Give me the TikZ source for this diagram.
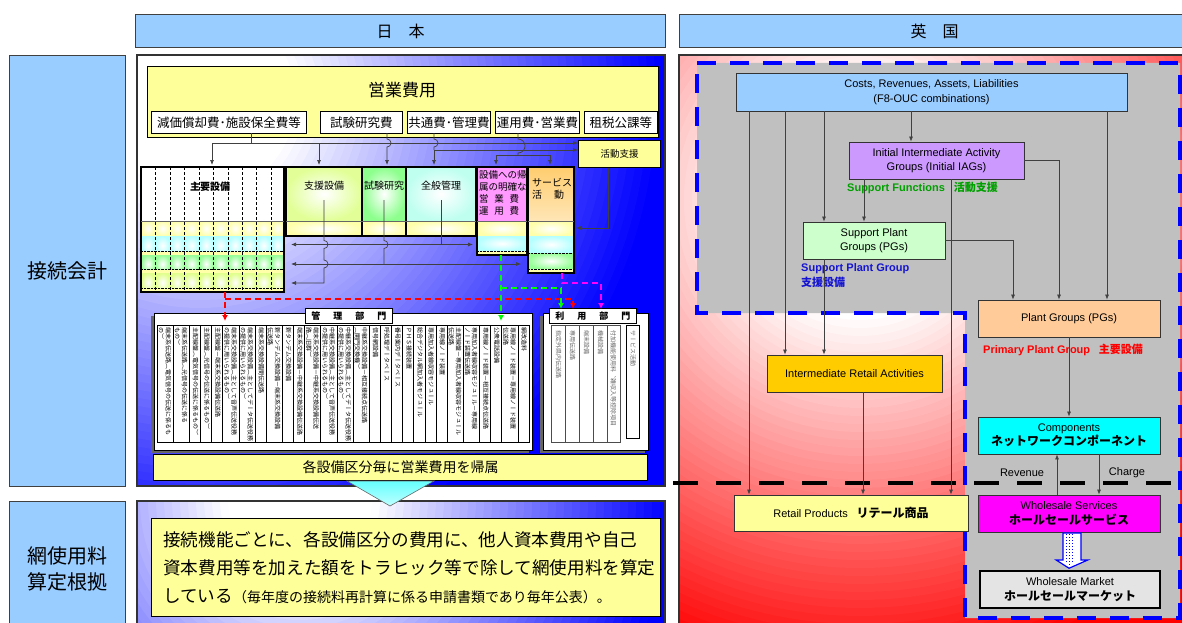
\documentclass[tikz,border=0pt]{standalone}
\usepackage{fontspec}
\setmainfont{Liberation Sans}
\newfontfamily\jp{Noto Sans CJK JP}
\newfontfamily\jpv{Noto Sans CJK JP}[Vertical=RotatedGlyphs]
\usetikzlibrary{positioning,arrows.meta,calc}
\definecolor{cyan}{RGB}{0,255,255}
\definecolor{magenta}{RGB}{255,0,255}
\definecolor{skyhdr}{RGB}{153,204,255}
\definecolor{paleyel}{RGB}{255,255,153}
\definecolor{ukgray}{RGB}{192,192,192}
\definecolor{lilac}{RGB}{204,153,255}
\definecolor{mint}{RGB}{204,255,204}
\definecolor{peach}{RGB}{255,204,153}
\definecolor{iragold}{RGB}{255,204,0}
\definecolor{sfgreen}{RGB}{0,160,0}
\definecolor{spblue}{RGB}{20,20,210}
\definecolor{rowyel}{RGB}{255,255,170}
\definecolor{rowcyan}{RGB}{180,255,255}
\definecolor{rowgreen}{RGB}{150,255,150}
\definecolor{rowlime}{RGB}{225,255,140}
\definecolor{shienc}{RGB}{225,255,150}
\definecolor{shikenc}{RGB}{140,255,140}
\definecolor{zenpanc}{RGB}{190,255,240}
\definecolor{pinkbox}{RGB}{255,153,255}
\definecolor{orangebox}{RGB}{255,205,110}
\definecolor{marble}{RGB}{228,228,228}
\begin{document}
\begin{tikzpicture}[x=1pt,y=-1pt,
        hdr/.style={draw=black!75,fill=skyhdr,line width=1pt,inner sep=0pt},
        ybox/.style={draw=black,fill=paleyel,line width=1pt,inner sep=0pt},
        wbox/.style={draw=black,fill=white,line width=0.8pt,inner sep=0pt,font=\jp\fontsize{12.5}{14}\selectfont},
        ukbox/.style={draw=black!80,line width=0.8pt,inner sep=0pt,align=center,font=\fontsize{11}{14.5}\selectfont},
        arr/.style={-{Latex[length=5pt,width=4pt]}},
        link/.style={draw=black!75,line width=0.7pt},
        cdash/.style={line width=1.5pt,dash pattern=on 6pt off 4pt,-{Latex[length=6pt,width=6pt]}},
        vtext/.style={rotate=-90,anchor=north west,inner sep=0pt,align=left,font=\jpv\fontsize{6}{7.2}\selectfont},
        cell/.style={draw=black,line width=0.8pt},
        thick box/.style={draw=black,line width=2.2pt},
        uklabel/.style={inner sep=0pt,font=\bfseries\fontsize{11}{15}\selectfont},
    ]
        \fill[white] (0,0) rectangle (1182,623);
        \useasboundingbox (0,0) rectangle (1182,623);

        \node[hdr,anchor=north west,minimum width=530,minimum height=33,font=\jp\fontsize{16}{16}\selectfont] (jphdr) at (135,14) {日\hspace{1em}本};
        \node[hdr,anchor=north west,minimum width=510,minimum height=33,font=\jp\fontsize{16}{16}\selectfont] (ukhdr) at (679,14) {英\hspace{1em}国};
        \node[hdr,anchor=north west,minimum width=116,minimum height=431,font=\jp\fontsize{20}{20}\selectfont] (kaikei) at (9,55) {接続会計};
        \node[hdr,anchor=north west,minimum width=116,minimum height=135,align=center,font=\jp\fontsize{20}{26}\selectfont] (santei) at (9,501) {網使用料\\算定根拠};

        \begin{scope}
                \clip (137,55) rectangle (665,486);
                \foreach \r in {624,616,...,0} {
                        \pgfmathsetmacro\p{min(100,max(0,(\r-98)/3.64))}
                        \fill[blue!\p!white] (200,100) circle (\r);
                }
        \end{scope}
        \draw[black!80,line width=1.2pt] (137,55) rectangle (665,486);
        \begin{scope}
                \clip (137,501) rectangle (665,630);
                \foreach \r in {400,392,...,0} {
                        \pgfmathsetmacro\p{min(100,max(0,(\r-78)/2.92))}
                        \fill[blue!\p!white] (300,500) circle (\r);
                }
        \end{scope}
        \draw[black!80,line width=1.2pt] (137,501) rectangle (665,630);
        \begin{scope}
                \clip (679,55) rectangle (1190,630);
                \foreach \r in {640,632,...,0} {
                        \pgfmathsetmacro\p{min(100,max(0,(\r-120)/3.6))}
                        \fill[red!\p!white] (860,200) circle (\r);
                }
        \end{scope}
        \draw[black!80,line width=1.2pt] (679,55) rectangle (1190,630);

        \node[ybox,anchor=north west,minimum width=511,minimum height=71] (eigyo) at (147,66) {};
        \node[font=\jp\fontsize{17}{17}\selectfont] (eigyot) at (402,90) {営業費用};
        \foreach \nm/\xa/\xb/\tx in {genka/151/306/減価償却費･施設保全費等, shiken/320/402/試験研究費, kyotsu/407/490/共通費･管理費, unyo/495/579/運用費･営業費, sozei/584/657/租税公課等}
                \node[wbox,anchor=north west,minimum width=\xb-\xa,minimum height=22] (\nm) at (\xa,111) {\tx};
        \node[ybox,anchor=north west,minimum width=82,minimum height=27,font=\jp\fontsize{9.5}{10}\selectfont] (katsudo) at (578,140) {活動支援};

        \draw[link] (251,133) -- (251,143);
        \draw[link,arr] (212,143) -- (katsudo.west |- 0,143);
        \draw[link,arr] (212,143) -- (212,165);
        \draw[link,arr] (319,143) -- (319,165);
        \draw[link,arr] (387,133) -- (387,139) arc[start angle=-90,end angle=90,radius=4] -- (387,165);
        \draw[link] (434,133) -- (434,139) arc[start angle=-90,end angle=90,radius=4] -- (434,150);
        \draw[link,arr] (434,150) -- (katsudo.west |- 0,150);
        \draw[link,arr] (434,150) -- (434,165);
        \draw[link] (518,133) -- (518,139) arc[start angle=-90,end angle=90,radius=7] -- (518,155);
        \draw[link,arr] (496,155) -- (496,165);
        \draw[link,arr] (496,155) -- (550,155) -- (550,165);

        \foreach \ya/\yb/\rc in {221/236/rowyel,236/255/rowcyan,255/273/rowgreen,273/292/rowlime}
                \foreach \xa/\xb in {141/155,155/170,170/184,184/199,199/213,213/228,228/242,242/256,256/271,271/284}
                        \shade[inner color=white,outer color=\rc] (\xa,\ya) rectangle (\xb,\yb);
        \foreach \yb in {255,273,292} {
                \fill[rowyel] (141,\yb-3.5) rectangle (284,\yb);
                \draw[densely dotted] (141,\yb-3.5) -- (284,\yb-3.5);
        }
        \fill[white] (141,167) rectangle (284,221);
        \foreach \xa in {155,170,184,199,213,228,242,256,271}
                \draw[densely dashed,line width=0.5pt] (\xa,167) -- (\xa,292);
        \node[font=\jp\bfseries\fontsize{10}{10}\selectfont] (shuyo) at (210,187) {主要設備};
        \draw[thick box] (141,167) rectangle (284,292);
        \draw[black!60,line width=0.5pt] (141,221) -- (284,221);

        \shade[inner color=white,outer color=shienc] (286,167) rectangle (362,221);
        \shade[inner color=white,outer color=shikenc] (362,167) rectangle (406,221);
        \shade[inner color=white,outer color=zenpanc] (406,167) rectangle (476,221);
        \foreach \xa/\xb in {286/362,362/406,406/476,477/527,528/574}
                \shade[inner color=white,outer color=rowyel] (\xa,221) rectangle (\xb,236);
        \node[anchor=north,font=\jp\fontsize{10}{10}\selectfont] (shien) at (324,178) {支援設備};
        \node[anchor=north,font=\jp\fontsize{10}{10}\selectfont] (kenkyu) at (384,178) {試験研究};
        \node[anchor=north,font=\jp\fontsize{10}{10}\selectfont] (zenpan) at (441,178) {全般管理};
        \draw[thick box] (286,167) rectangle (476,236);
        \draw[line width=1.5pt] (362,167) -- (362,236) (406,167) -- (406,236);
        \draw[black!60,line width=0.5pt] (286,221) -- (476,221);

        \fill[pinkbox] (477,167) rectangle (527,221);
        \shade[inner color=white,outer color=rowcyan] (477,236) rectangle (527,251);
        \fill[rowyel] (477,251) rectangle (527,255);
        \draw[densely dotted] (477,251) -- (527,251);
        \node[anchor=north west,align=left,inner sep=0pt,font=\jp\fontsize{9.5}{12}\selectfont] (kizokub) at (479,170) {設備への帰\\属の明確な\\営\hspace{0.6em}業\hspace{0.6em}費\\運\hspace{0.6em}用\hspace{0.6em}費};
        \draw[thick box] (477,167) rectangle (527,255);
        \draw[black!60,line width=0.5pt] (477,221) -- (527,221);

        \shade[top color=orangebox,bottom color=orangebox!50] (528,167) rectangle (574,221);
        \shade[inner color=white,outer color=rowcyan] (528,236) rectangle (574,253);
        \shade[inner color=white,outer color=rowgreen] (528,253) rectangle (574,269);
        \fill[rowyel] (528,269) rectangle (574,273);
        \draw[densely dotted] (528,253) -- (574,253) (528,269) -- (574,269);
        \node[anchor=north west,align=left,inner sep=0pt,font=\jp\fontsize{10}{12}\selectfont] (service) at (532,178) {サービス\\活\hspace{1.2em}動};
        \draw[thick box] (528,167) rectangle (574,273);
        \draw[black!60,line width=0.5pt] (528,221) -- (574,221);

        \draw[link,arr] (katsudo.south -| 608,0) |- (576,228);
        \draw[link] (441,200) -- (441,244.5);
        \draw[link,{Latex[length=5pt,width=4pt]}-{Latex[length=5pt,width=4pt]}] (291,244.5) -- (473,244.5);
        \draw[link] (384,200) -- (384,240.5) arc[start angle=-90,end angle=90,radius=4] -- (384,264);
        \draw[link,{Latex[length=5pt,width=4pt]}-{Latex[length=5pt,width=4pt]}] (291,264) -- (521,264);
        \draw[link,arr] (324,200) -- (324,240.5) arc[start angle=-90,end angle=90,radius=4] -- (324,260) arc[start angle=-90,end angle=90,radius=4] -- (324,283) -- (291,283);

        \fill[black!60] (151,316) rectangle (529,453);
        \draw[fill=white,line width=0.8pt] (154,313) rectangle (532,450);
        \foreach \w/\ta/\tb [evaluate=\w as \xe using \xs-\w, remember=\xe as \xs (initially 529)] in {11.1/網改造料/{}, 16.2/専用線ノード装置－専用線ノード装置/伝送路, 11.1/公衆電話設備/{}, 11.1/専用線ノード装置－相互接続点伝送路/{}, 16.2/専用加入者線収容モジュール－専用線/ノード装置伝送路, 16.2/主配線盤－専用加入者線収容モジュール/伝送路, 11.1/専用線ノード装置/{}, 11.1/専用加入者線収容モジュール/{}, 11.1/総合デジタル網加入者モジュール/{}, 11.1/ＰＨＳ接続装置/{}, 11.1/番号案内データベース/{}, 11.1/呼処理データベース/{}, 11.1/信号網設備/{}, 16.2/中継系交換設備－相互接続点伝送路/（関門交換機）, 16.2/中継系交換設備（主としてデータ伝送役務/の提供に用いられるもの）, 16.2/中継系交換設備（主として音声伝送役務/の提供に用いられるもの）, 16.2/端末系交換設備－中継系交換設備伝送/路（旧群）, 11.1/端末系交換設備－中継系交換設備伝送路/{}, 11.1/新タンデム交換設備/{}, 16.2/新タンデム交換設備－端末系交換設備/伝送路, 11.1/端末系交換設備間伝送路/{}, 16.2/端末系交換設備（主としてデータ伝送役務/の提供に用いられるもの）, 16.2/端末系交換設備（主として音声伝送役務/の提供に用いられるもの）, 11.1/主配線盤－端末系交換設備伝送路/{}, 11.1/主配線盤（光信号の伝送に係るもの）/{}, 11.1/主配線盤（電気信号の伝送に係るもの）/{}, 16.2/端末系伝送路（光信号の伝送に係る/もの）, 16.2/端末系伝送路（電気信号の伝送に係るも/の）} {
                \draw[cell] (\xe,325) rectangle (\xs,442);
                \node[vtext] at (\xs-1.8,327.5) {\ta\\\tb};
        }
        \node[draw,fill=white,line width=0.8pt,minimum width=87,minimum height=15,anchor=north west,inner sep=0pt,font=\jp\bfseries\itshape\fontsize{9}{9}\selectfont] (kanri) at (305,308) {管\hspace{13pt}理\hspace{13pt}部\hspace{13pt}門};

        \fill[black!60] (540,316) rectangle (645,453);
        \draw[fill=white,line width=0.8pt] (543,313) rectangle (648,450);
        \foreach \w/\ta [evaluate=\w as \xe using \xs-\w, remember=\xe as \xs (initially 620)] in {13/付加機能使用料、雑収入等控除項目, 14/機械設備, 14/端末設備, 14/専用伝送路, 14/指定外県内伝送路} {
                \draw[cell,black!70] (\xe,325) rectangle (\xs,442);
                \node[vtext,text=black!60] at (\xs-3.5,330) {\ta};
        }
        \draw[cell] (626,325) rectangle (639,438);
        \node[vtext,text=black!60] (svact) at (636,330) {サービス活動};
        \node[draw,fill=white,line width=0.8pt,minimum width=87,minimum height=15,anchor=north west,inner sep=0pt,font=\jp\bfseries\itshape\fontsize{9}{9}\selectfont] (riyo) at (549,308) {利\hspace{13pt}用\hspace{13pt}部\hspace{13pt}門};

        \draw[cdash,red] (225,292) -- (225,321);
        \draw[cdash,red] (225,299) -| (573,309);
        \draw[cdash,green] (501,255) -- (501,321);
        \draw[cdash,green] (501,288) -| (561,309);
        \draw[cdash,magenta] (562,273) |- (601,283) -- (601,309);

        \node[ybox,anchor=north west,minimum width=494,minimum height=26,font=\jp\fontsize{14}{14}\selectfont] (kizoku) at (153,454) {各設備区分毎に営業費用を帰属};
        \draw[black!60,line width=0.6pt,top color=cyan!60,bottom color=cyan!25] (kizoku.south -| 347,0) -- (kizoku.south -| 434,0) -- (390,506) -- cycle;

        \node[ybox,anchor=north west,minimum width=509,minimum height=98] (santeib) at (151,518) {};
        \node[anchor=north west,align=left,inner sep=0pt,font=\jp\fontsize{17.6}{28}\selectfont] (santeit) at (163,531) {接続機能ごとに、各設備区分の費用に、他人資本費用や自己\\資本費用等を加えた額をトラヒック等で除して網使用料を算定\\している{\fontsize{14}{14}\selectfont（毎年度の接続料再計算に係る申請書類であり毎年公表）。}};

        \fill[ukgray] (697,63) -- (1180,63) -- (1180,618) -- (965,618) -- (965,313) -- (697,313) -- cycle;
        \draw[blue,line width=4pt,dash pattern=on 19pt off 14pt] (697,63) -- (1180,63) -- (1180,618) -- (965,618) -- (965,313) -- (697,313) -- cycle;
        \draw[black,line width=4pt,dash pattern=on 25pt off 18pt] (673,483) -- (1182,483);

        \node[ukbox,fill=skyhdr,minimum width=391,minimum height=38] (costs) at (931.5,92) {Costs, Revenues, Assets, Liabilities\\(F8-OUC combinations)};
        \node[ukbox,fill=lilac,minimum width=175,minimum height=37] (iiag) at (936.5,160.5) {Initial Intermediate Activity\\Groups (Initial IAGs)};
        \node[ukbox,fill=mint,minimum width=142,minimum height=37] (spg) at (874,240.5) {Support Plant\\Groups (PGs)};
        \node[ukbox,fill=peach,minimum width=182,minimum height=37] (pg) at (1069,318.5) {Plant Groups (PGs)};
        \node[ukbox,fill=iragold,minimum width=175,minimum height=37] (ira) at (854.5,373.5) {Intermediate Retail Activities};
        \node[ukbox,fill=cyan,minimum width=182,minimum height=37] (comp) at (1069,435.5) {Components\\{\jp\bfseries\fontsize{12}{14}\selectfont ネットワークコンポーネント}};
        \node[ukbox,fill=paleyel,minimum width=234,minimum height=36] (retail) at (851,513) {Retail Products\hspace{0.8em}{\jp\bfseries\fontsize{12}{14}\selectfont リテール商品}};
        \node[ukbox,fill=magenta,minimum width=182,minimum height=37] (whs) at (1069,513.5) {Wholesale Services\\{\jp\bfseries\fontsize{12}{14}\selectfont ホールセールサービス}};
        \node[ukbox,fill=marble,draw=black,line width=2.5pt,minimum width=180,minimum height=37] (wmkt) at (1070,589.5) {Wholesale Market\\{\jp\bfseries\fontsize{12}{14}\selectfont ホールセールマーケット}};

        \node[uklabel,text=sfgreen,anchor=west] (sfl) at (847,188) {Support Functions\hspace{0.8em}{\jp 活動支援}};
        \node[uklabel,text=spblue,anchor=north west,align=left] (spgl) at (801,263) {Support Plant Group\\{\jp 支援設備}};
        \node[uklabel,text=red,anchor=west] (ppgl) at (983,350) {Primary Plant Group\hspace{0.8em}{\jp 主要設備}};
        \node[font=\fontsize{11}{11}\selectfont] (revl) at (1022,473) {Revenue};
        \node[font=\fontsize{11}{11}\selectfont] (chgl) at (1127,473) {Charge};

        \coordinate (xa) at (749,0);
        \coordinate (xb) at (785,0);
        \coordinate (xc) at (824,0);
        \coordinate (xd) at (911,0);
        \coordinate (xe) at (1107,0);
        \coordinate (xf) at (864,0);
        \coordinate (xg) at (951,0);
        \coordinate (xh) at (1059,0);
        \coordinate (xi) at (1013,0);
        \coordinate (xj) at (863,0);
        \coordinate (xk) at (1057,0);
        \coordinate (xl) at (1099,0);
        \draw[link,arr] (costs.south -| xa) -- (retail.north -| xa);
        \draw[link,arr] (costs.south -| xb) -- (ira.north -| xb);
        \draw[link,arr] (costs.south -| xc) -- (spg.north -| xc);
        \draw[link,arr] (spg.south -| xc) -- (ira.north -| xc);
        \draw[link,arr] (costs.south -| xd) -- (iiag.north -| xd);
        \draw[link,arr] (costs.south -| xe) -- (pg.north -| xe);
        \draw[link,arr] (iiag.south -| xf) -- (spg.north -| xf);
        \draw[link,arr] (iiag.south -| xg) -- (retail.north -| xg);
        \draw[link,arr] (iiag.east) -| (pg.north -| xh);
        \draw[link,arr] (spg.east) -| (pg.north -| xi);
        \draw[link,arr] (pg.south) -- (comp.north);
        \draw[link,arr] (ira.south -| xj) -- (retail.north -| xj);
        \draw[link,arr] (whs.north -| xk) -- (comp.south -| xk);
        \draw[link,arr] (comp.south -| xl) -- (whs.north -| xl);
        \draw[blue,line width=1.2pt,fill=white] ($(whs.south)+(-6,0.5)$) -- ++(0,27) -- ++(-7,0) -- ($(wmkt.north)+(-1,-1.5)$) -- ($(whs.south)+(19,27.5)$) -- ++(-7,0) -- ++(0,-27) -- cycle;
        \draw[blue,line width=1pt,dotted] ($(whs.south)+(-3,2)$) -- ++(0,28) ($(whs.south)+(0,2)$) -- ++(0,32) ($(whs.south)+(3,2)$) -- ++(0,28);
\end{tikzpicture}
\end{document}
